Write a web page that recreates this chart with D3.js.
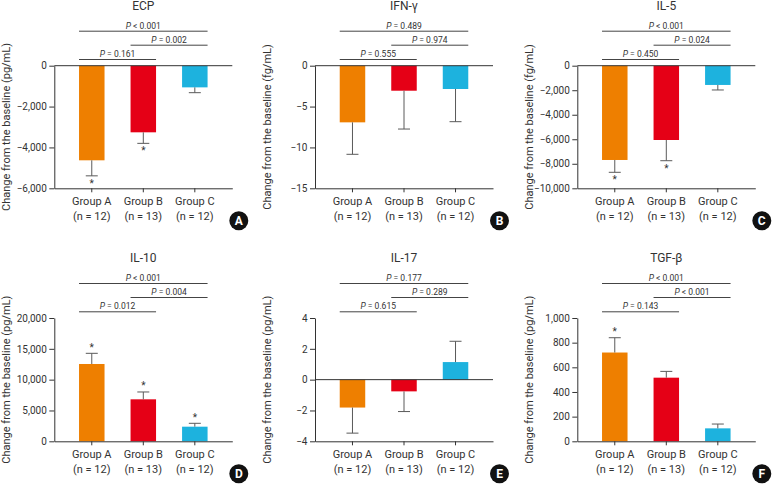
<!DOCTYPE html>
<html><head><meta charset="utf-8">
<script src="https://cdn.jsdelivr.net/npm/d3@7"></script>
<style>
body{margin:0;background:#fff}
svg{display:block}
text{font-family:Roboto,"Noto Sans",sans-serif;fill:#333}
</style>
</head><body>
<svg id="c" width="772" height="484"></svg>
<script>
// ---------- data ----------
const groups = ["Group A", "Group B", "Group C"];
const groupN = ["(n = 12)", "(n = 13)", "(n = 12)"];
const letters = ["A", "B", "C", "D", "E", "F"];
const titles = ["ECP", "IFN-γ", "IL-5", "IL-10", "IL-17", "TGF-β"];
const yLabels = [
  "Change from the baseline (pg/mL)",
  "Change from the baseline (fg/mL)",
  "Change from the baseline (fg/mL)",
  "Change from the baseline (pg/mL)",
  "Change from the baseline (pg/mL)",
  "Change from the baseline (pg/mL)"
];

const ecpMean = [-4630, -3260, -1060];
const ecpErr  = [760, 540, 260];
const ecpStar = [true, true, false];
const ecpP    = ["< 0.001", "= 0.002", "= 0.161"];
const ecpTicks = [0, -2000, -4000, -6000];

const ifnMean = [-6.93, -3.06, -2.85];
const ifnErr  = [3.91, 4.69, 4.0];
const ifnStar = [false, false, false];
const ifnP    = ["= 0.489", "= 0.974", "= 0.555"];
const ifnTicks = [0, -5, -10, -15];

const il5Mean = [-7690, -6060, -1570];
const il5Err  = [1005, 1690, 410];
const il5Star = [true, true, false];
const il5P    = ["< 0.001", "= 0.024", "= 0.450"];
const il5Ticks = [0, -2000, -4000, -6000, -8000, -10000];

const il10Mean = [12540, 6810, 2370];
const il10Err  = [1730, 1190, 550];
const il10Star = [true, true, true];
const il10P    = ["< 0.001", "= 0.004", "= 0.012"];
const il10Ticks = [0, 5000, 10000, 15000, 20000];

const il17Mean = [-1.81, -0.76, 1.14];
const il17Err  = [1.66, 1.31, 1.35];
const il17Star = [false, false, false];
const il17P    = ["= 0.177", "= 0.289", "= 0.615"];
const il17Ticks = [-4, -2, 0, 2, 4];

const tgfMean = [720, 516, 105];
const tgfErr  = [120, 51, 35];
const tgfStar = [true, false, false];
const tgfP    = ["< 0.001", "< 0.001", "= 0.143"];
const tgfTicks = [0, 200, 400, 600, 800, 1000];

const colors = ["#EE7F00", "#E50016", "#1DB2DE"];
const pairs = [[0, 2], [1, 2], [0, 1]];

// ---------- build ----------
const panels = [
  {mean: ecpMean, err: ecpErr, star: ecpStar, p: ecpP, ticks: ecpTicks},
  {mean: ifnMean, err: ifnErr, star: ifnStar, p: ifnP, ticks: ifnTicks},
  {mean: il5Mean, err: il5Err, star: il5Star, p: il5P, ticks: il5Ticks},
  {mean: il10Mean, err: il10Err, star: il10Star, p: il10P, ticks: il10Ticks},
  {mean: il17Mean, err: il17Err, star: il17Star, p: il17P, ticks: il17Ticks},
  {mean: tgfMean, err: tgfErr, star: tgfStar, p: tgfP, ticks: tgfTicks}
];
const axX = [54.3, 315, 577.3];
const rows = [{top: 65.7, bottom: 188.3}, {top: 318, bottom: 441.3}];
const W = 178;
const levels = [-34.5, -20.5, -6.2];
const axisColor = "#333";
const errColor = "#5a5a5a";

const svg = d3.select("#c");

panels.forEach((pd, k) => {
  const ax = axX[k % 3];
  const {top, bottom} = rows[Math.floor(k / 3)];
  const g = svg.append("g");
  const x = d3.scaleBand().domain(groups).range([ax, ax + W]).paddingInner(0.505).paddingOuter(0.48);
  const bw = x.bandwidth();
  const ext = d3.extent(pd.ticks);
  const y = d3.scaleLinear().domain([ext[1], ext[0]]).range([top, bottom]);
  const y0 = y(0);

  // bars
  g.selectAll("rect.bar").data(pd.mean).join("rect")
    .attr("x", (d, i) => x(groups[i]))
    .attr("width", bw)
    .attr("y", d => Math.min(y(d), y0))
    .attr("height", d => Math.abs(y(d) - y0))
    .attr("fill", (d, i) => colors[i]);

  // error bars
  pd.mean.forEach((m, i) => {
    const s = m < 0 ? -1 : 1;
    const e = m + s * pd.err[i];
    const cx = x(groups[i]) + bw / 2;
    g.append("line").attr("x1", cx).attr("x2", cx).attr("y1", y(m)).attr("y2", y(e))
      .attr("stroke", errColor).attr("stroke-width", 1);
    g.append("line").attr("x1", cx - 6).attr("x2", cx + 6).attr("y1", y(e)).attr("y2", y(e))
      .attr("stroke", errColor).attr("stroke-width", 1);
    if (pd.star[i]) {
      g.append("text").attr("x", cx).attr("y", s < 0 ? y(e) + 11 : y(e) - 2.5)
        .attr("text-anchor", "middle").attr("font-size", 10).text("*");
    }
  });

  // y axis
  const yAxis = g.append("g").attr("transform", `translate(${ax},0)`)
    .call(d3.axisLeft(y).tickValues(pd.ticks).tickSize(5).tickSizeOuter(0).tickPadding(2.5).tickFormat(d3.format(",")));
  yAxis.selectAll("text").attr("font-size", 10).attr("font-family", "Roboto, 'Noto Sans', sans-serif").attr("fill", "#333");
  yAxis.selectAll("line,path").attr("stroke", axisColor);

  // bottom axis
  const xAxis = g.append("g").attr("transform", `translate(0,${bottom})`)
    .call(d3.axisBottom(x).tickSize(4).tickSizeOuter(0).tickFormat(""));
  xAxis.selectAll("line,path").attr("stroke", axisColor);

  // zero line
  if (Math.abs(y0 - bottom) > 0.5) {
    g.append("line").attr("x1", ax).attr("x2", ax + W).attr("y1", y0).attr("y2", y0)
      .attr("stroke", axisColor).attr("stroke-width", 1);
  }

  // group labels
  groups.forEach((gr, i) => {
    const cx = x(gr) + bw / 2;
    g.append("text").attr("x", cx).attr("y", bottom + 16.7).attr("text-anchor", "middle")
      .attr("font-size", 11).text(gr);
    g.append("text").attr("x", cx).attr("y", bottom + 31.2).attr("text-anchor", "middle")
      .attr("font-size", 11).text(groupN[i]);
  });

  // significance brackets
  pairs.forEach(([a, b], j) => {
    const ly = top + levels[j];
    const x1 = x(groups[a]), x2 = x(groups[b]) + bw;
    g.append("line").attr("x1", x1).attr("x2", x2).attr("y1", ly).attr("y2", ly)
      .attr("stroke", "#444").attr("stroke-width", 1);
    const t = g.append("text").attr("x", (x1 + x2) / 2).attr("y", ly - 2.5)
      .attr("text-anchor", "middle").attr("font-size", 8.5);
    t.append("tspan").attr("font-style", "italic").text("P");
    t.append("tspan").text(" " + pd.p[j]);
  });

  // title
  g.append("text").attr("x", ax + W / 2).attr("y", top - 56).attr("text-anchor", "middle")
    .attr("font-size", 12).text(titles[k]);

  // y label
  g.append("text").attr("transform", `translate(${ax - 47.5},${(top + bottom) / 2}) rotate(-90)`)
    .attr("text-anchor", "middle").attr("dominant-baseline", "central")
    .attr("font-size", 11).text(yLabels[k]);

  // panel letter
  g.append("circle").attr("cx", ax + W + 6.5).attr("cy", bottom + 32.5).attr("r", 9.5).attr("fill", "#111");
  g.append("text").attr("x", ax + W + 6.5).attr("y", bottom + 32.5).attr("text-anchor", "middle")
    .attr("dominant-baseline", "central").attr("font-size", 12).attr("font-weight", "bold")
    .style("fill", "#fff").text(letters[k]);
});
</script>
</body></html>
